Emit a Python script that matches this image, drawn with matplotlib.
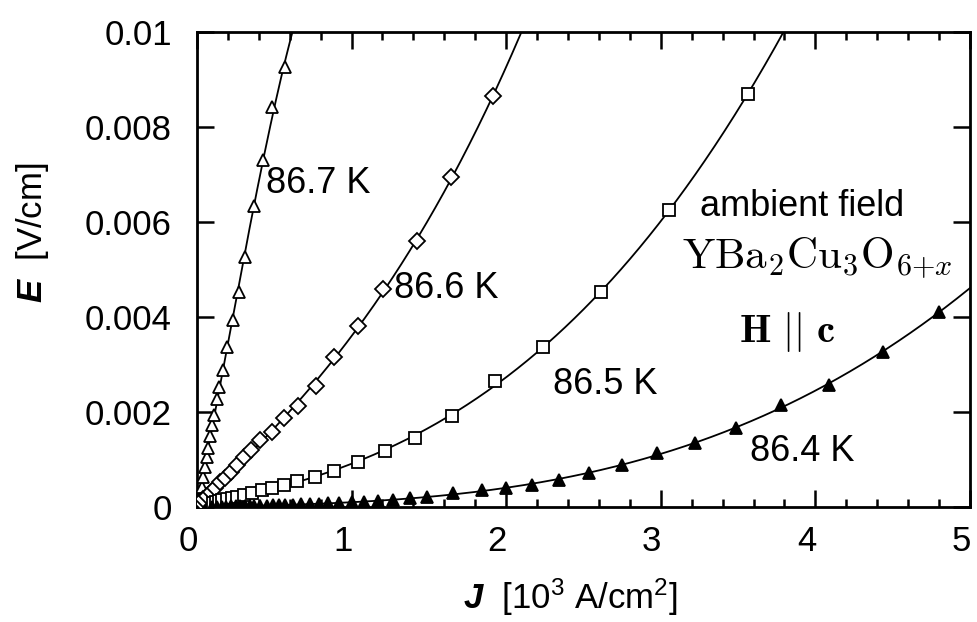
import numpy as np
import matplotlib
matplotlib.use('Agg')
import matplotlib.pyplot as plt
import matplotlib.transforms as mtransforms

plt.rcParams['font.family'] = ['Liberation Sans', 'DejaVu Sans']
plt.rcParams['mathtext.fontset'] = 'custom'
plt.rcParams['mathtext.rm'] = 'Liberation Sans'
plt.rcParams['mathtext.it'] = 'Liberation Sans:italic'
plt.rcParams['mathtext.bf'] = 'Liberation Sans:bold:italic'

# data: J in 10^3 A/cm^2, E in V/cm
J_867 = [0.030, 0.041, 0.052, 0.063, 0.073, 0.084, 0.099, 0.112, 0.127, 0.144,
         0.166, 0.196, 0.231, 0.272, 0.310, 0.369, 0.425, 0.487, 0.569]
E_867 = [0.00043, 0.00064, 0.00085, 0.00106, 0.00124, 0.00150, 0.00173, 0.00194,
         0.00228, 0.00253, 0.00288, 0.00337, 0.00394, 0.00453, 0.00527, 0.00634,
         0.00730, 0.00841, 0.00927]

J_866 = [0.025, 0.042, 0.063, 0.089, 0.116, 0.149, 0.181, 0.218, 0.257, 0.304,
         0.349, 0.407, 0.483, 0.563, 0.655, 0.768, 0.886, 1.043, 1.205, 1.423,
         1.643, 1.917]
E_866 = [0.00010, 0.00016, 0.00023, 0.00032, 0.00041, 0.00052, 0.00062, 0.00074,
         0.00088, 0.00105, 0.00120, 0.00140, 0.00157, 0.00187, 0.00213, 0.00255,
         0.00316, 0.00380, 0.00458, 0.00560, 0.00695, 0.00865]

J_865 = [0.105, 0.122, 0.142, 0.165, 0.193, 0.225, 0.262, 0.305, 0.355, 0.418,
         0.483, 0.565, 0.645, 0.763, 0.888, 1.043, 1.216, 1.410, 1.651, 1.928,
         2.240, 2.613, 3.055, 3.562]
E_865 = [0.00008, 0.00010, 0.00012, 0.00014, 0.00016, 0.00019, 0.00022, 0.00026,
         0.00030, 0.00035, 0.00041, 0.00047, 0.00055, 0.00064, 0.00076, 0.00094,
         0.00118, 0.00145, 0.00192, 0.00265, 0.00337, 0.00453, 0.00625, 0.00869]

J_864 = [0.10, 0.13, 0.16, 0.19, 0.22, 0.25, 0.28, 0.31, 0.34, 0.37, 0.41, 0.45,
         0.49, 0.53, 0.57, 0.62, 0.67, 0.73, 0.79, 0.85, 0.92, 1.00, 1.08, 1.17,
         1.27, 1.38, 1.49, 1.658, 1.841, 1.999, 2.165, 2.344, 2.538, 2.747, 2.973,
         3.221, 3.487, 3.778, 4.090, 4.435, 4.802]
E_864 = [0.000005, 0.000006, 0.000008, 0.000009, 0.000011, 0.000013, 0.000015,
         0.000017, 0.00002, 0.000023, 0.000027, 0.000031, 0.000036, 0.00004,
         0.000045, 0.00005, 0.000056, 0.000063, 0.00007, 0.000078, 0.000088,
         0.0001, 0.000115, 0.00013, 0.00015, 0.00018, 0.00022, 0.00029, 0.00035,
         0.00039, 0.00046, 0.00057, 0.00072, 0.00088, 0.00113, 0.00134, 0.00166,
         0.00215, 0.00257, 0.00327, 0.00411]

x_ticks = [0, 1, 2, 3, 4, 5]
y_ticks = [0, 0.002, 0.004, 0.006, 0.008, 0.01]
y_tick_labels = ['0', '0.002', '0.004', '0.006', '0.008', '0.01']

fig = plt.figure(figsize=(9.78, 6.22), dpi=100)
ax = fig.add_axes([0.2014, 0.1849, 0.7904, 0.7637])


def draw_series(J, E, marker, ms, filled):
    J = np.array(J)
    E = np.array(E)
    # smooth fitted curve through the points, stopped once it leaves the frame
    coef = np.polyfit(J, E, 3)
    grid = np.linspace(0, 5, 1000)
    fit = np.polyval(coef, grid)
    out = np.nonzero(fit > 0.0102)[0]
    if len(out):
        grid = grid[:out[0] + 1]
        fit = fit[:out[0] + 1]
    ax.plot(grid, fit, color='black', lw=1.3, zorder=2)
    ax.plot(J, E, linestyle='none', marker=marker, ms=ms,
            mfc='black' if filled else 'white', mec='black', mew=1.3, zorder=3)


draw_series(J_867, E_867, '^', 8, False)
draw_series(J_866, E_866, 'D', 8, False)
draw_series(J_865, E_865, 's', 8, False)
draw_series(J_864, E_864, '^', 8, True)

ax.set_xlim(0, 5)
ax.set_ylim(0, 0.01)
ax.set_xticks(x_ticks)
ax.set_xticklabels([str(t) for t in x_ticks])
ax.set_xticks(np.arange(0, 5.01, 0.2), minor=True)
ax.set_yticks(y_ticks)
ax.set_yticklabels(y_tick_labels)

ax.tick_params(which='both', direction='in', top=True, right=True, width=1.8)
ax.tick_params(which='major', length=12)
ax.tick_params(which='minor', length=6)
ax.tick_params(axis='x', labelsize=25, pad=13)
ax.tick_params(axis='y', labelsize=25, pad=18)
for s in ax.spines.values():
    s.set_linewidth(2)

# the printed x labels sit a little left of their ticks
shift = mtransforms.ScaledTranslation(-9 / 100, 0, fig.dpi_scale_trans)
for lab in ax.get_xticklabels():
    lab.set_transform(lab.get_transform() + shift)

ax.set_xlabel(r'$\mathbf{J}$  [10$^3$ A/cm$^2$]', fontsize=25)
ax.xaxis.set_label_coords(0.483, -0.189)
ax.xaxis.label.set_va('center')
ax.set_ylabel(r'$\mathbf{E}$  [V/cm]', fontsize=25)
ax.yaxis.set_label_coords(-0.213, 0.577)
ax.yaxis.label.set_va('center')

ax.text(0.446, 0.00682, '86.7 K', fontsize=26, ha='left', va='center')
ax.text(1.274, 0.00461, '86.6 K', fontsize=26, ha='left', va='center')
ax.text(2.303, 0.00257, '86.5 K', fontsize=26, ha='left', va='center')
ax.text(3.577, 0.00116, '86.4 K', fontsize=26, ha='left', va='center')
ax.text(3.254, 0.00632, 'ambient field', fontsize=26, ha='left', va='center')
ax.text(3.14, 0.00524, r'$\mathrm{YBa}_2\mathrm{Cu}_3\mathrm{O}_{6{+}x}$',
        fontsize=31, ha='left', va='center', math_fontfamily='cm')
ax.text(3.815, 0.00368, r'$\mathbf{H}\ ||\ \mathbf{c}$',
        fontsize=29, ha='center', va='center', math_fontfamily='cm')

fig.savefig('out.png', dpi=100, facecolor='white')
